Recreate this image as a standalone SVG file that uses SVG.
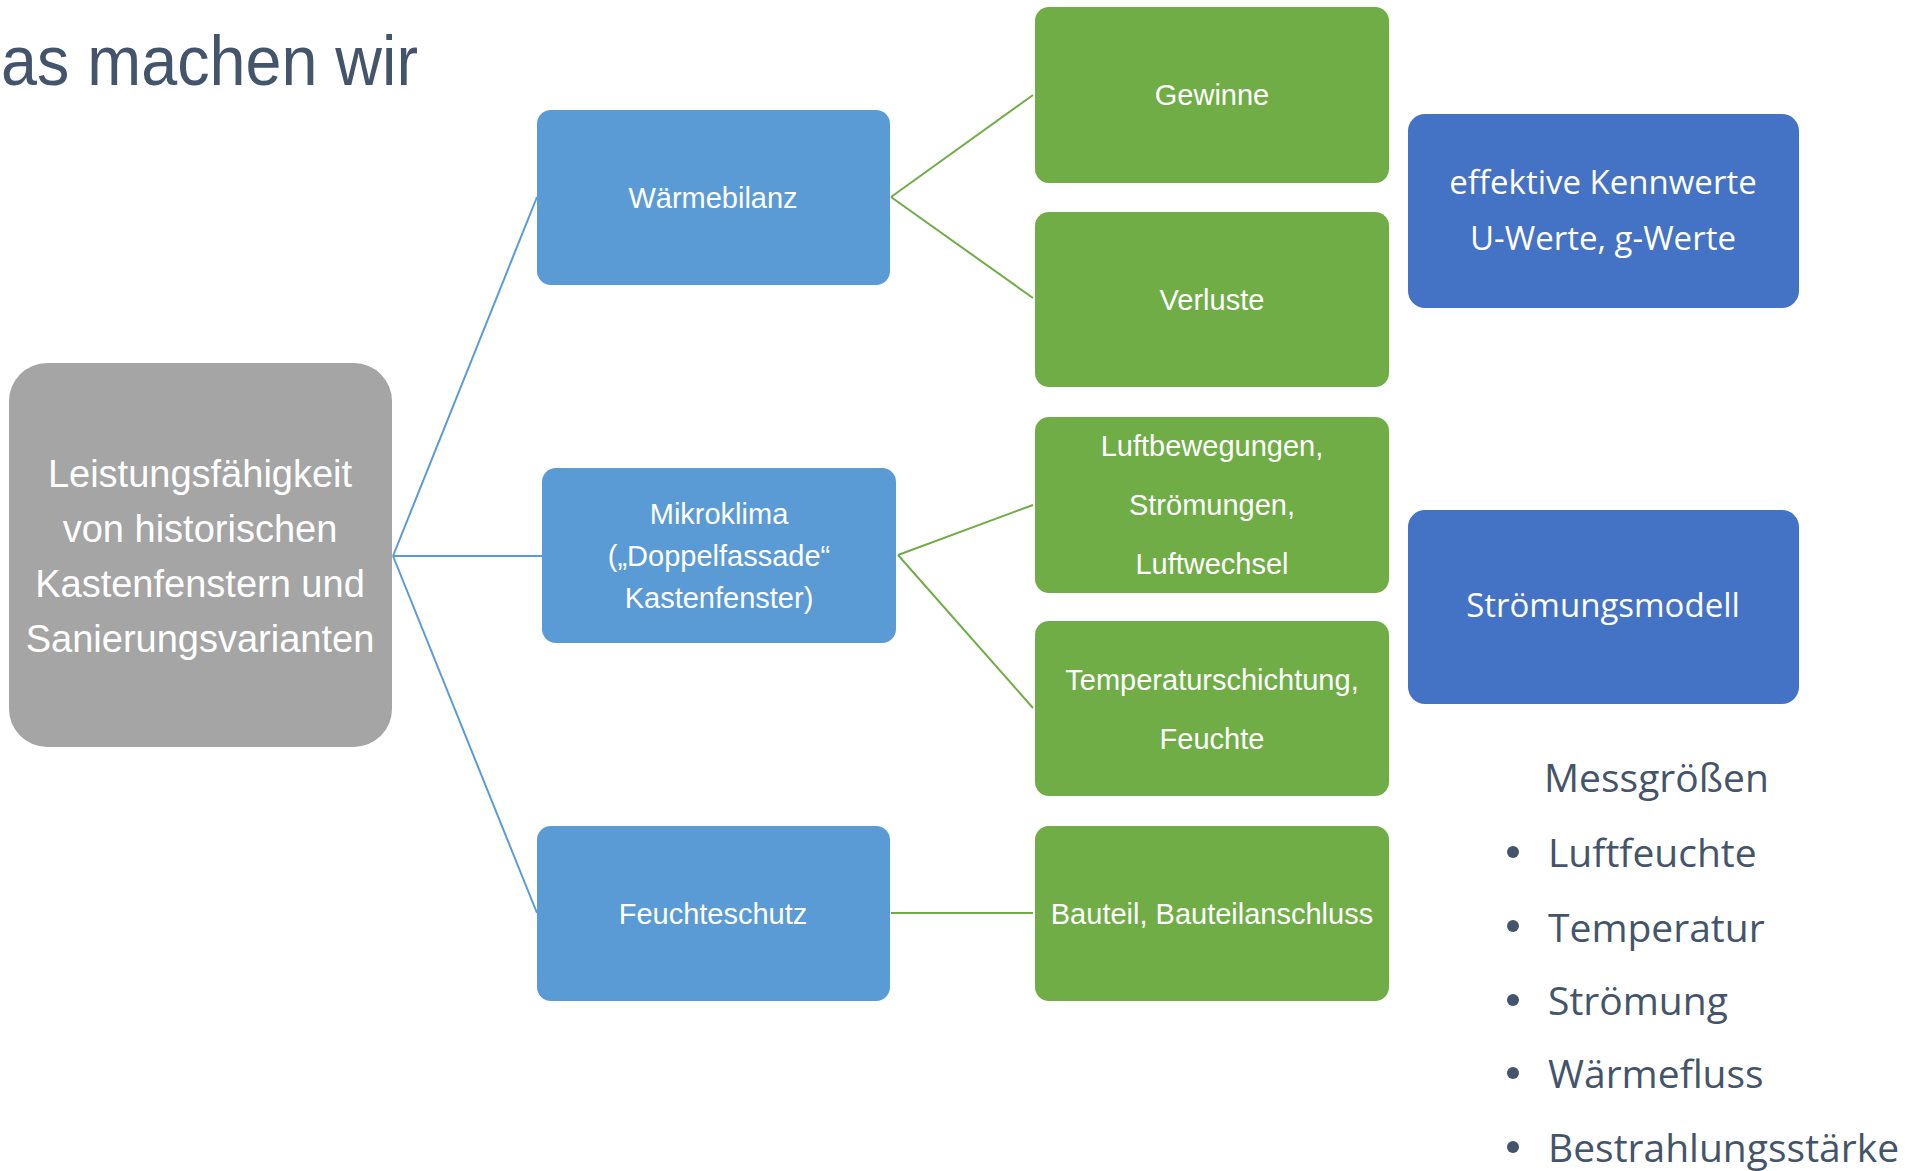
<svg xmlns="http://www.w3.org/2000/svg" width="1923" height="1171" viewBox="0 0 1923 1171">
<style>
.t{font-family:"Liberation Sans",Arial,sans-serif;fill:#fff;text-anchor:middle}
.n{font-size:29px}
.c{font-family:"Open Sans",sans-serif;fill:#fff;text-anchor:middle;font-size:33px}
.m{font-family:"Open Sans",sans-serif;fill:#44546A;font-size:39px}
.blue{fill:#5B9BD5}
.green{fill:#70AD47}
.dblue{fill:#4472C4}
.lb{stroke:#5B9BD5;stroke-width:2;fill:none}
.lg{stroke:#70AD47;stroke-width:2;fill:none}
</style>
<rect width="1923" height="1171" fill="#fff"/>
<text x="1" y="85" font-family="'Liberation Sans',Arial,sans-serif" font-size="70" fill="#44546A" textLength="417" lengthAdjust="spacingAndGlyphs">as machen wir</text>

<g id="connectors">
<line class="lb" x1="393" y1="556" x2="537" y2="197"/>
<line class="lb" x1="393" y1="556" x2="542" y2="556"/>
<line class="lb" x1="393" y1="556" x2="537" y2="913"/>
<line class="lg" x1="891" y1="197" x2="1033" y2="95"/>
<line class="lg" x1="891" y1="197" x2="1033" y2="298"/>
<line class="lg" x1="898" y1="555" x2="1033" y2="505"/>
<line class="lg" x1="898" y1="555" x2="1033" y2="708"/>
<line class="lg" x1="891" y1="913" x2="1033" y2="913"/>
</g>

<g id="root">
<rect x="9" y="363" width="383" height="384" rx="38" fill="#A5A5A5"/>
<text class="t" font-size="38" x="200" y="487">Leistungsfähigkeit</text>
<text class="t" font-size="38" x="200" y="542">von historischen</text>
<text class="t" font-size="38" x="200" y="597">Kastenfenstern und</text>
<text class="t" font-size="38" x="200" y="652">Sanierungsvarianten</text>
</g>

<g id="waermebilanz">
<rect class="blue" x="537" y="110" width="353" height="175" rx="14"/>
<text class="t n" x="713" y="208">Wärmebilanz</text>
</g>
<g id="mikroklima">
<rect class="blue" x="542" y="468" width="354" height="175" rx="14"/>
<text class="t n" x="719" y="524">Mikroklima</text>
<text class="t n" x="719" y="566">(„Doppelfassade“</text>
<text class="t n" x="719" y="608">Kastenfenster)</text>
</g>
<g id="feuchteschutz">
<rect class="blue" x="537" y="826" width="353" height="175" rx="14"/>
<text class="t n" x="713" y="924">Feuchteschutz</text>
</g>

<g id="gewinne">
<rect class="green" x="1035" y="7" width="354" height="176" rx="14"/>
<text class="t n" x="1212" y="105">Gewinne</text>
</g>
<g id="verluste">
<rect class="green" x="1035" y="212" width="354" height="175" rx="14"/>
<text class="t n" x="1212" y="310">Verluste</text>
</g>
<g id="luftbewegungen">
<rect class="green" x="1035" y="417" width="354" height="176" rx="14"/>
<text class="t n" x="1212" y="456">Luftbewegungen,</text>
<text class="t n" x="1212" y="515">Strömungen,</text>
<text class="t n" x="1212" y="574">Luftwechsel</text>
</g>
<g id="temperaturschichtung">
<rect class="green" x="1035" y="621" width="354" height="175" rx="14"/>
<text class="t n" x="1212" y="690">Temperaturschichtung,</text>
<text class="t n" x="1212" y="749">Feuchte</text>
</g>
<g id="bauteil">
<rect class="green" x="1035" y="826" width="354" height="175" rx="14"/>
<text class="t n" x="1212" y="924">Bauteil, Bauteilanschluss</text>
</g>

<g id="kennwerte">
<rect class="dblue" x="1408" y="114" width="391" height="194" rx="17"/>
<text class="c" x="1603" y="194">effektive Kennwerte</text>
<text class="c" x="1603" y="250">U-Werte, g-Werte</text>
</g>
<g id="stroemungsmodell">
<rect class="dblue" x="1408" y="510" width="391" height="194" rx="17"/>
<text class="c" x="1603" y="617">Strömungsmodell</text>
</g>

<g id="messgroessen">
<text class="m" x="1544" y="792">Messgrößen</text>
<g fill="#44546A">
<circle cx="1513" cy="852" r="6"/>
<circle cx="1513" cy="926" r="6"/>
<circle cx="1513" cy="1000" r="6"/>
<circle cx="1513" cy="1073" r="6"/>
<circle cx="1513" cy="1147" r="6"/>
</g>
<text class="m" x="1548" y="867">Luftfeuchte</text>
<text class="m" x="1548" y="942">Temperatur</text>
<text class="m" x="1548" y="1015">Strömung</text>
<text class="m" x="1548" y="1088">Wärmefluss</text>
<text class="m" x="1548" y="1162">Bestrahlungsstärke</text>
</g>
</svg>
